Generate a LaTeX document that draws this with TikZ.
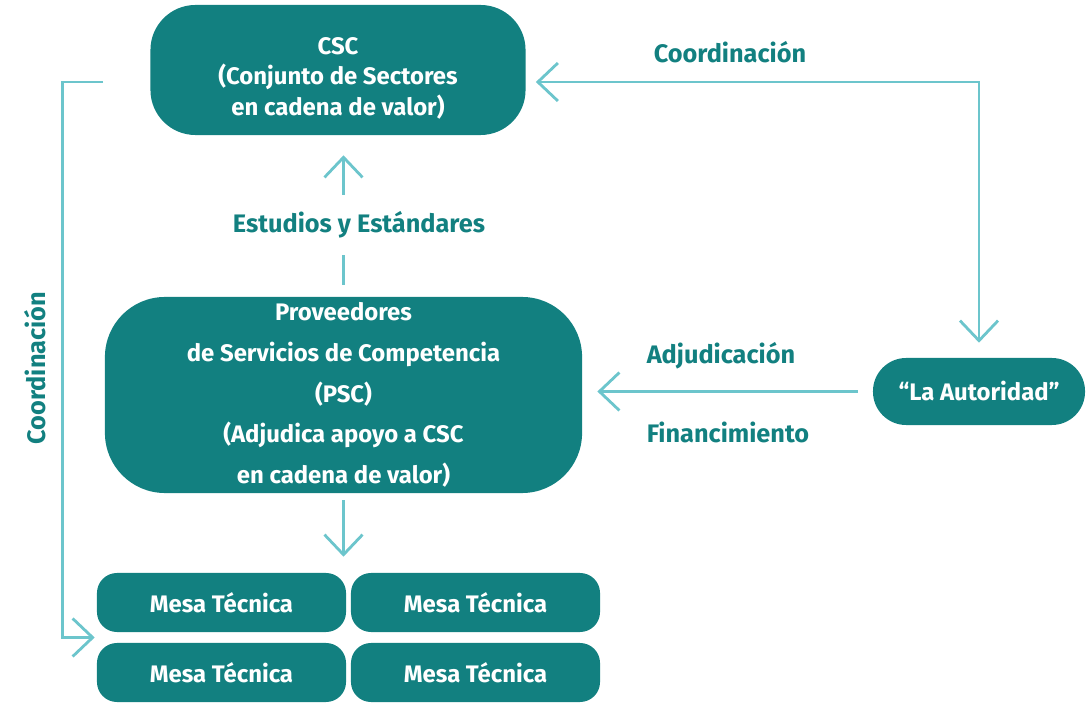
\documentclass[tikz,border=0pt]{standalone}
\usepackage{fontspec}
\setmainfont{Fira Sans}
\usetikzlibrary{arrows.meta,calc}

\definecolor{boxteal}{RGB}{18,128,128}
\definecolor{linecyan}{RGB}{108,197,204}

\tikzset{
  box/.style={fill=boxteal, text=white, align=center, font=\bfseries\fontsize{17}{22}\selectfont},
  conn/.style={draw=linecyan, line width=2pt},
  lbl/.style={text=boxteal, font=\bfseries\fontsize{18}{20}\selectfont},
  barbend/.style={-{Straight Barb[length=5mm,width=9.5mm] .}},
  barbboth/.style={{. Straight Barb[length=5mm,width=9.5mm]}-{Straight Barb[length=5mm,width=9.5mm] .}}
}

\begin{document}
\begin{tikzpicture}[x=0.025cm, y=-0.025cm]
        \useasboundingbox (0,0) rectangle (1090,707);
        % boxes
        \node[box, rounded corners=1.125cm, minimum width=9.375cm, minimum height=3.25cm] (csc) at (338,70) {\rule{0pt}{24pt}CSC\\(Conjunto de Sectores\\en cadena de valor)};
        \node[box, rounded corners=1.5cm, minimum width=11.925cm, minimum height=4.9cm, font=\bfseries\fontsize{17}{29}\selectfont] (psc) at (343.5,395) {Proveedores\\de Servicios de Competencia\\(PSC)\\(Adjudica apoyo a CSC\\en cadena de valor)};
        \node[box, rounded corners=0.83cm, minimum width=5.3cm, minimum height=1.675cm] (aut) at (979,391.5) {“La Autoridad”};
        \node[box, rounded corners=0.5cm, minimum width=6.225cm, minimum height=1.475cm] (m1) at (221.5,602.5) {Mesa Técnica};
        \node[box, rounded corners=0.5cm, minimum width=6.225cm, minimum height=1.475cm] (m2) at (475.5,602.5) {Mesa Técnica};
        \node[box, rounded corners=0.5cm, minimum width=6.225cm, minimum height=1.475cm] (m3) at (221.5,672.5) {Mesa Técnica};
        \node[box, rounded corners=0.5cm, minimum width=6.225cm, minimum height=1.475cm] (m4) at (475.5,672.5) {Mesa Técnica};
        % labels
        \node[lbl] (coordtop) at (730,52) {Coordinación};
        \node[lbl, rotate=90] (coordleft) at (35,368) {Coordinación};
        \node[lbl] (adj) at (721,356) {Adjudicación};
        \node[lbl] (fin) at (728,432) {Financimiento};
        \node[lbl, minimum height=1.5cm] (est) at (359,225) {Estudios y Estándares};
        \coordinate (mgap) at ($(m1.south west)!0.5!(m3.north west)$);
        % connectors
        \draw[conn, barbboth, shorten <=0.25cm, shorten >=0.375cm] ($(csc.east)+(0,12)$) -| (aut.north);
        \draw[conn, barbend, shorten >=0.05cm] ($(csc.west)+(-47,12)$) -- ++(-41,0) |- (mgap);
        \draw[conn, barbend, shorten <=0.375cm, shorten >=0.375cm] (aut.west) -- (aut.west -| psc.east);
        \draw[conn, shorten <=0.3cm] (psc.north) -- (psc.north |- est.south);
        \draw[conn, barbend, shorten >=0.5cm] (psc.north |- est.north) -- (psc.north |- csc.south);
        \draw[conn, barbend, shorten <=0.175cm, shorten >=0.4cm] (psc.south) -- (psc.south |- m1.north);
    \end{tikzpicture}
\end{document}
